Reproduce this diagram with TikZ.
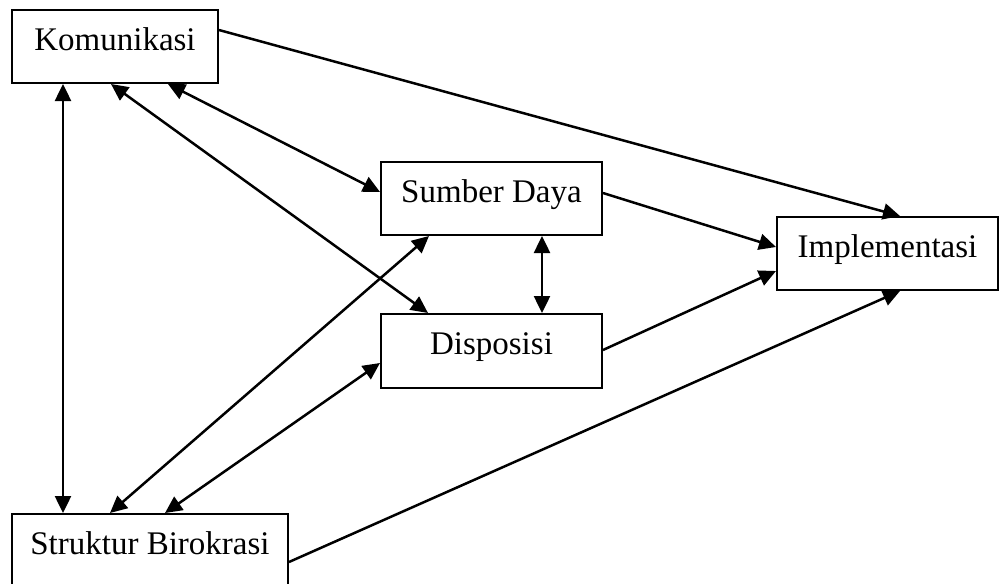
\documentclass[tikz,border=0pt]{standalone}
\usepackage{fontspec}
\setmainfont{Liberation Serif}
\usetikzlibrary{arrows.meta}
\begin{document}
\begin{tikzpicture}[x=1pt,y=-1pt,
  box/.style={draw,line width=2pt,inner sep=0pt,font=\fontsize{33}{38}\selectfont,text height=22pt,text depth=15pt},
  tip/.style={Triangle[length=17pt,width=16pt]},
  conn/.style={line width=2.5pt,-{Triangle[length=17pt,width=16pt]}},
  dconn/.style={line width=2.5pt,{Triangle[length=17pt,width=16pt]}-{Triangle[length=17pt,width=16pt]}}]
\useasboundingbox (0,0) rectangle (1005,584);
\node[box,minimum width=206pt,minimum height=73pt] (kom) at (115,46.5) {Komunikasi};
\node[box,minimum width=221pt,minimum height=73pt] (sd) at (491.5,198.5) {Sumber Daya};
\node[box,minimum width=221pt,minimum height=74pt] (disp) at (491.5,351) {Disposisi};
\node[box,minimum width=221pt,minimum height=73pt] (impl) at (887.5,253.5) {Implementasi};
\node[box,minimum width=276pt,minimum height=73pt] (str) at (150,550.5) {Struktur Birokrasi};
\draw[conn] ([yshift=16.5pt]kom.east) -- ([xshift=12.5pt]impl.north);
\draw[dconn] ([xshift=53pt]kom.south) -- ([yshift=6.5pt]sd.west);
\draw[dconn] ([xshift=-4pt]kom.south) -- ([xshift=-63.5pt]disp.north);
\draw[dconn] ([xshift=-52pt]kom.south) -- ([xshift=-87pt]str.north);
\draw[conn] ([yshift=5.5pt]sd.east) -- ([yshift=6.5pt]impl.west);
\draw[dconn] ([xshift=50.5pt]sd.south) -- ([xshift=50.5pt]disp.north);
\draw[conn] ([yshift=1pt]disp.east) -- ([yshift=-17.5pt]impl.west);
\draw[dconn] ([xshift=-40pt]str.north) -- ([xshift=-62.5pt]sd.south);
\draw[dconn] ([xshift=15pt]str.north) -- ([yshift=-12pt]disp.west);
\draw[conn] ([yshift=-11.5pt]str.east) -- ([xshift=12.5pt]impl.south);
\end{tikzpicture}
\end{document}
